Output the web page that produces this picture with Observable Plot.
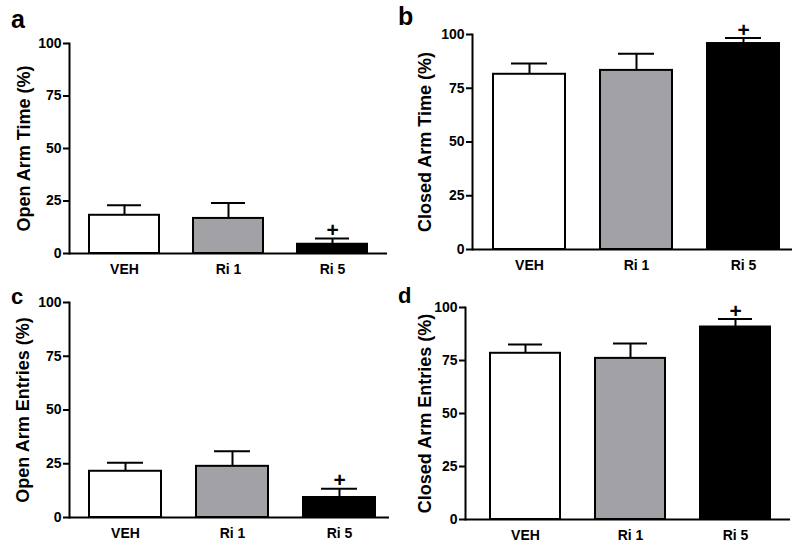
<!DOCTYPE html>
<html>
<head>
<meta charset="utf-8">
<script src="https://cdn.jsdelivr.net/npm/d3@7"></script>
<script src="https://cdn.jsdelivr.net/npm/@observablehq/plot@0.6"></script>
<style>
  html, body { margin: 0; padding: 0; background: #fff; }
  #root { position: relative; width: 800px; height: 547px; overflow: hidden; background: #fff;
          font-family: "Liberation Sans", Arial, Helvetica, sans-serif; font-weight: bold; }
  .panel { position: absolute; }
  .letter { position: absolute; font-weight: bold; color: #000; line-height: 1; }
</style>
</head>
<body>
<div id="root"></div>
<script>
// ---- data ----
const groups = ["VEH", "Ri 1", "Ri 5"];
const fills = ["#ffffff", "#a2a2a6", "#000000"];
const significance = ["", "", "+"];

const openTimeMean = [18.2, 16.7, 4.4];
const openTimeSem = [4.8, 7.4, 2.7];
const closedTimeMean = [81.5, 83.3, 95.8];
const closedTimeSem = [5.0, 7.7, 2.6];
const openEntriesMean = [21.5, 23.8, 9.3];
const openEntriesSem = [4.0, 7.0, 4.1];
const closedEntriesMean = [78.4, 76.0, 90.8];
const closedEntriesSem = [4.1, 7.0, 3.8];

const yTicks = [0, 25, 50, 75, 100];

const panels = [
  {letter: "a", label: "Open Arm Time (%)", mean: openTimeMean, sem: openTimeSem,
   left: 0, top: 0, height: 275, mL: 69, mR: 13, mT: 43, mB: 22, pi: 0.323, po: 0.18, align: 0.5, labelDx: -45,
   lx: 11, ly: 7, lsize: 25},
  {letter: "b", label: "Closed Arm Time (%)", mean: closedTimeMean, sem: closedTimeSem,
   left: 400, top: 0, height: 275, mL: 72, mR: 8, mT: 34, mB: 26, pi: 0.33, po: 0.16, align: 0.6, labelDx: -47,
   lx: 398, ly: 4, lsize: 25},
  {letter: "c", label: "Open Arm Entries (%)", mean: openEntriesMean, sem: openEntriesSem,
   left: 0, top: 275, height: 272, mL: 69, mR: 11, mT: 27, mB: 30, pi: 0.324, po: 0.148, align: 0.59, labelDx: -46,
   lx: 11, ly: 286, lsize: 22},
  {letter: "d", label: "Closed Arm Entries (%)", mean: closedEntriesMean, sem: closedEntriesSem,
   left: 400, top: 275, height: 272, mL: 65, mR: 10, mT: 32, mB: 28, pi: 0.33, po: 0.205, align: 0.56, labelDx: -40,
   lx: 398, ly: 285, lsize: 22}
];

const root = document.getElementById("root");

for (const p of panels) {
  const rows = groups.map((g, i) => ({
    group: g, mean: p.mean[i], upper: p.mean[i] + p.sem[i], fill: fills[i], sig: significance[i]
  }));

  const chart = Plot.plot({
    width: 400,
    height: p.height,
    marginLeft: p.mL,
    marginRight: p.mR,
    marginTop: p.mT,
    marginBottom: p.mB,
    style: {fontFamily: "'Liberation Sans', Arial, Helvetica, sans-serif", fontWeight: "bold", color: "#000", background: "transparent", overflow: "visible"},
    x: {domain: groups, paddingInner: p.pi, paddingOuter: p.po, align: p.align, label: null},
    y: {domain: [0, 100], label: null},
    marks: [
      Plot.barY(rows, {x: "group", y: "mean", fill: "fill", stroke: "#000", strokeWidth: 2}),
      Plot.ruleX(rows, {x: "group", y1: "mean", y2: "upper", stroke: "#000", strokeWidth: 2}),
      Plot.tickY(rows, {x: "group", y: "upper", stroke: "#000", strokeWidth: 2, insetLeft: 18, insetRight: 18}),
      Plot.text(rows.filter(d => d.sig), {x: "group", y: "upper", text: "sig", dy: -8, fontSize: 21, fontWeight: "bold", lineAnchor: "middle", fill: "#000"}),
      Plot.frame({anchor: "left", stroke: "#000", strokeWidth: 2}),
      Plot.ruleY([0], {stroke: "#000", strokeWidth: 2}),
      Plot.axisY({ticks: yTicks, tickSize: 6, tickPadding: 2, strokeWidth: 2, fontSize: 14, label: null}),
      Plot.axisX({tickSize: 0, tickPadding: 11, fontSize: 14, label: null}),
      Plot.text([p.label], {frameAnchor: "left", dx: p.labelDx, rotate: -90, text: d => d, fontSize: 18, fontWeight: "bold", lineAnchor: "middle", textAnchor: "middle", fill: "#000"})
    ]
  });

  const div = document.createElement("div");
  div.className = "panel";
  div.style.left = p.left + "px";
  div.style.top = p.top + "px";
  div.appendChild(chart);
  root.appendChild(div);

  const letter = document.createElement("div");
  letter.className = "letter";
  letter.textContent = p.letter;
  letter.style.left = p.lx + "px";
  letter.style.top = p.ly + "px";
  letter.style.fontSize = p.lsize + "px";
  root.appendChild(letter);
}
</script>
</body>
</html>
